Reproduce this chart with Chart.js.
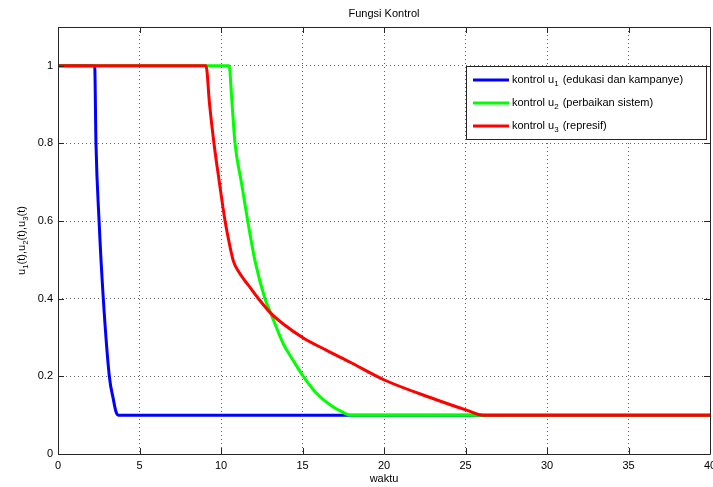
<!DOCTYPE html>
<html>
<head>
<meta charset="utf-8">
<script src="https://cdn.jsdelivr.net/npm/chart.js@4.4.0/dist/chart.umd.min.js"></script>
<style>
  html, body { margin: 0; padding: 0; background: #fff; }
  #wrap { width: 713px; height: 487px; }
</style>
</head>
<body>
<div id="wrap"><canvas id="c" width="713" height="487"></canvas></div>
<script>
// values
const u1T = [0, 2.25, 2.33, 2.52, 2.78, 3.15, 3.4, 3.55, 3.7, 40];
const u1V = [1, 1, 0.8, 0.6, 0.4, 0.2, 0.14, 0.11, 0.1, 0.1];
const u2T = [0, 10.5, 10.65, 10.86, 11.25, 11.64, 12.09, 12.7, 13.05, 13.82, 14.4, 15.05, 15.87, 16.89, 17.4, 17.9, 40];
const u2V = [1, 1, 0.92, 0.8, 0.7, 0.6, 0.497, 0.4, 0.363, 0.284, 0.243, 0.2, 0.156, 0.121, 0.109, 0.1, 0.1];
const u3T = [0, 9.08, 9.3, 9.57, 9.9, 10.25, 10.5, 10.76, 11.05, 11.37, 11.8, 12.3, 13.05, 13.82, 15.05, 16.48, 17.9, 20.06, 23.0, 25.07, 26.1, 40];
const u3V = [1, 1, 0.9, 0.8, 0.7, 0.6, 0.545, 0.497, 0.472, 0.452, 0.428, 0.4, 0.363, 0.335, 0.299, 0.267, 0.237, 0.19, 0.143, 0.113, 0.1, 0.1];
const xTicks = [0, 5, 10, 15, 20, 25, 30, 35, 40];
const yTicks = [0, 0.2, 0.4, 0.6, 0.8, 1];
const seriesNames = ['edukasi dan kampanye', 'perbaikan sistem', 'represif'];
const seriesColors = ['#0000ff', '#00ff00', '#ff0000'];

const FONT = '"Liberation Sans", Arial, sans-serif';

function pts(t, v) {
    return t.map((x, i) => ({ x, y: v[i] }));
}

// box, inward ticks, labels with subscripts, legend
const matlabDecor = {
    id: 'matlabDecor',
    afterDraw(chart) {
        const ctx = chart.ctx;
        const a = chart.chartArea;
        const xs = chart.scales.x, ys = chart.scales.y;
        ctx.save();
        ctx.strokeStyle = '#262626';
        ctx.lineWidth = 1;
        ctx.beginPath();
        ctx.rect(Math.round(a.left) + 0.5, Math.round(a.top) + 0.5,
                 Math.round(a.right - a.left), Math.round(a.bottom - a.top));
        xTicks.forEach(v => {
            const p = Math.round(xs.getPixelForValue(v)) + 0.5;
            ctx.moveTo(p, a.bottom); ctx.lineTo(p, a.bottom - 6);
            ctx.moveTo(p, a.top); ctx.lineTo(p, a.top + 6);
        });
        yTicks.forEach(v => {
            const p = Math.round(ys.getPixelForValue(v)) + 0.5;
            ctx.moveTo(a.left, p); ctx.lineTo(a.left + 6, p);
            ctx.moveTo(a.right, p); ctx.lineTo(a.right - 6, p);
        });
        ctx.stroke();

        const cx = (a.left + a.right) / 2;
        ctx.fillStyle = '#000';
        ctx.font = '11px ' + FONT;
        ctx.textAlign = 'center';
        ctx.textBaseline = 'middle';
        ctx.fillText('Fungsi Kontrol', cx, 14);
        ctx.fillText('waktu', cx, 479);

        // y title with subscripts
        ctx.save();
        ctx.translate(22, (a.top + a.bottom) / 2);
        ctx.rotate(-Math.PI / 2);
        const parts = [['u', '1', '(t),'], ['u', '2', '(t),'], ['u', '3', '(t)']];
        let w = 0;
        const big = '11px ' + FONT, small = '8px ' + FONT;
        parts.forEach(p => {
            ctx.font = big; w += ctx.measureText(p[0] + p[2]).width;
            ctx.font = small; w += ctx.measureText(p[1]).width;
        });
        let x = -w / 2;
        ctx.textAlign = 'left';
        parts.forEach(p => {
            ctx.font = big; ctx.fillText(p[0], x, 0); x += ctx.measureText(p[0]).width;
            ctx.font = small; ctx.fillText(p[1], x, 4); x += ctx.measureText(p[1]).width;
            ctx.font = big; ctx.fillText(p[2], x, 0); x += ctx.measureText(p[2]).width;
        });
        ctx.restore();

        // legend
        const lx = 466, ly = 66, lw = 240, lh = 73;
        ctx.fillStyle = '#fff';
        ctx.fillRect(lx, ly, lw, lh);
        ctx.strokeStyle = '#262626';
        ctx.strokeRect(lx + 0.5, ly + 0.5, lw, lh);
        ctx.textAlign = 'left';
        seriesNames.forEach((name, i) => {
            const yy = 80 + i * 23;
            ctx.strokeStyle = seriesColors[i];
            ctx.lineWidth = 3;
            ctx.beginPath();
            ctx.moveTo(473, yy); ctx.lineTo(509, yy);
            ctx.stroke();
            ctx.fillStyle = '#000';
            let tx = 512;
            ctx.font = big; ctx.fillText('kontrol u', tx, yy); tx += ctx.measureText('kontrol u').width;
            ctx.font = small; ctx.fillText(String(i + 1), tx, yy + 4); tx += ctx.measureText(String(i + 1)).width;
            ctx.font = big; ctx.fillText(' (' + name + ')', tx + 1, yy);
        });
        ctx.restore();
    }
};

const gridStyle = {
    color: 'rgba(0,0,0,0.6)',
    lineWidth: 1,
    drawTicks: false
};

new Chart(document.getElementById('c'), {
    type: 'line',
    data: {
        datasets: [0, 1, 2].map(i => ({
            label: 'kontrol u' + (i + 1) + ' (' + seriesNames[i] + ')',
            data: [pts(u1T, u1V), pts(u2T, u2V), pts(u3T, u3V)][i],
            borderColor: seriesColors[i],
            backgroundColor: seriesColors[i],
            borderWidth: 3,
            pointRadius: 0,
            cubicInterpolationMode: 'monotone',
            borderJoinStyle: 'round',
            order: 2 - i
        }))
    },
    options: {
        responsive: false,
        animation: false,
        layout: { padding: { left: 0, right: 3, top: 27, bottom: 0 } },
        plugins: {
            legend: { display: false },
            title: { display: false },
            tooltip: { enabled: false }
        },
        scales: {
            x: {
                type: 'linear',
                min: 0, max: 40,
                border: { display: false, dash: [1, 3] },
                grid: gridStyle,
                afterBuildTicks: s => { s.ticks = xTicks.map(v => ({ value: v })); },
                afterFit: s => { s.height = 33; s.paddingLeft = 0; s.paddingRight = 0; },
                ticks: {
                    font: { family: FONT, size: 11 },
                    color: '#000',
                    padding: 5,
                    maxRotation: 0,
                    autoSkip: false
                }
            },
            y: {
                min: 0, max: 1.1,
                border: { display: false, dash: [1, 3] },
                grid: gridStyle,
                afterBuildTicks: s => { s.ticks = yTicks.map(v => ({ value: v })); },
                afterFit: s => { s.width = 58; s.paddingTop = 0; s.paddingBottom = 0; },
                ticks: {
                    font: { family: FONT, size: 11 },
                    color: '#000',
                    padding: 5,
                    autoSkip: false,
                    callback: v => String(Math.round(v * 10) / 10)
                }
            }
        }
    },
    plugins: [matlabDecor]
});
</script>
</body>
</html>
